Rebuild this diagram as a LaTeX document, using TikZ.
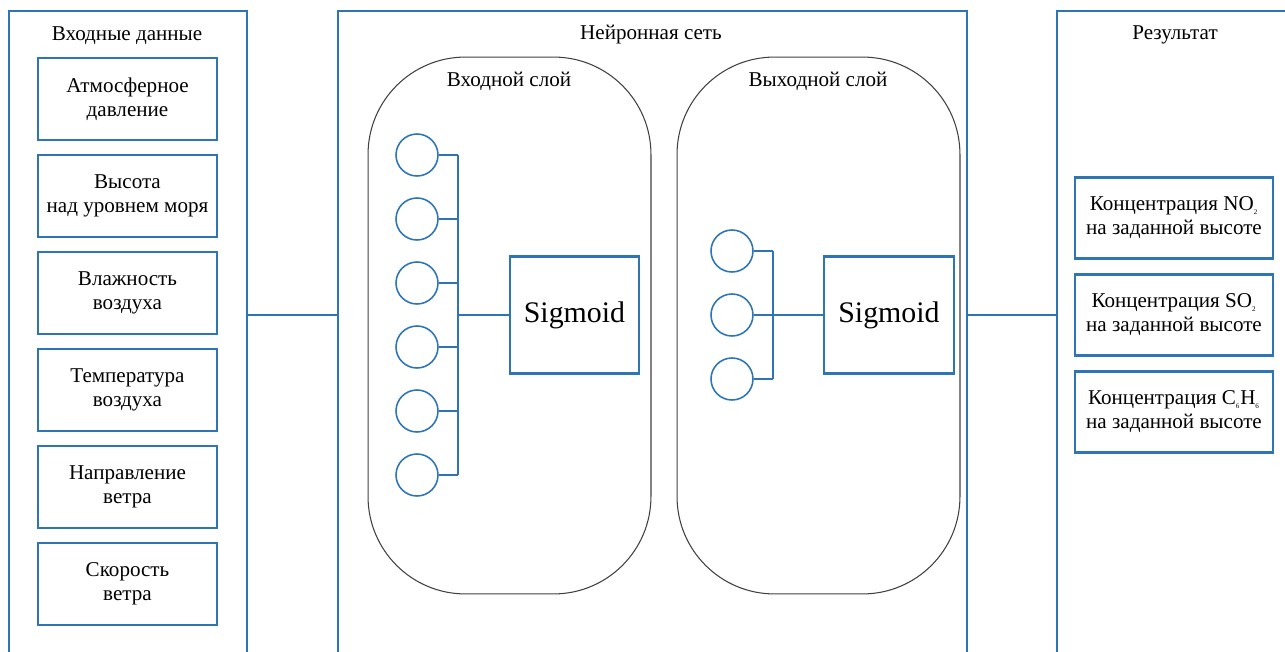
\documentclass[tikz,border=0pt]{standalone}
\usepackage{fontspec}
\setmainfont{Liberation Serif}
\definecolor{netblue}{RGB}{46,117,182}
\newcommand\lowidx[1]{\textsubscript{\fontsize{4}{4}\selectfont #1}}

\begin{document}
\begin{tikzpicture}[x=0.02cm, y=-0.02cm, line width=1.2pt, draw=netblue,
  panel/.style={rectangle, draw=netblue, anchor=north west, inner sep=0pt},
  head/.style={font=\fontsize{12}{14}\selectfont},
  item/.style={rectangle, draw=netblue, minimum width=3.58cm, minimum height=1.64cm, align=center, font=\fontsize{12}{13.6}\selectfont},
  result/.style={item, minimum width=3.96cm, minimum height=1.62cm},
  layer/.style={rectangle, rounded corners=1.95cm, draw=black!75, line width=0.6pt, minimum width=5.66cm, minimum height=10.74cm},
  neuron/.style={circle, draw=netblue, line width=0.9pt, minimum size=0.84cm, inner sep=0pt},
  sig/.style={rectangle, draw=netblue, minimum height=2.34cm, font=\fontsize{17}{20}\selectfont}]
\useasboundingbox (0,0) rectangle (1285,652);
\clip (0,0) rectangle (1285,652);

\begin{scope}
\node[panel, minimum width=4.76cm, minimum height=14cm] (inp) at (8,10) {};
\node[panel, minimum width=12.58cm, minimum height=14cm] (net) at (337,10) {};
\node[panel, minimum width=4.88cm, minimum height=14cm] (res) at (1056,10) {};
\node[head] (inptitle) at (127,36) {Входные данные};
\node[head] (nettitle) at (651,35) {Нейронная сеть};
\node[head] (restitle) at (1175,35) {Результат};
\end{scope}

\begin{scope}
\node[item] (x1) at (127.5,99) {Атмосферное\\давление};
\node[item] (x2) at (127.5,196) {Высота\\над уровнем моря};
\node[item] (x3) at (127.5,293) {Влажность\\воздуха};
\node[item] (x4) at (127.5,390) {Температура\\воздуха};
\node[item] (x5) at (127.5,487) {Направление\\ветра};
\node[item] (x6) at (127.5,584) {Скорость\\ветра};
\end{scope}

\begin{scope}
\node[result] (y1) at (1174,218) {Концентрация NO\lowidx{2}\\на заданной высоте};
\node[result] (y2) at (1174,315) {Концентрация SO\lowidx{2}\\на заданной высоте};
\node[result] (y3) at (1174,412) {Концентрация C\lowidx{6}H\lowidx{6}\\на заданной высоте};
\end{scope}

\begin{scope}
\node[layer] (lin) at (509.5,325.5) {};
\node[layer] (lout) at (818.5,325.5) {};
\node[head] (lintitle) at (509,81) {Входной слой};
\node[head] (louttitle) at (818,81) {Выходной слой};
\node[sig, minimum width=2.58cm] (sigA) at (574.5,315) {Sigmoid};
\node[sig, minimum width=2.6cm] (sigB) at (889,315) {Sigmoid};
\coordinate (busA) at (458,0);
\coordinate (busB) at (773,0);
\end{scope}

\begin{scope}[line width=0.9pt]
\foreach \i in {1,...,6}{
  \node[neuron] (a\i) at (417,{155+64*(\i-1)}) {};
  \draw (a\i.east) -- (a\i.east -| busA);
}
\draw (a1.east -| busA) -- (a6.east -| busA);
\draw (busA |- sigA.west) -- (sigA.west);
\foreach \i in {1,2,3}{
  \node[neuron] (b\i) at (732,{251+64*(\i-1)}) {};
  \draw (b\i.east) -- (b\i.east -| busB);
}
\draw (b1.east -| busB) -- (b3.east -| busB);
\draw (b2.east) -- (sigB.west);
\end{scope}

\draw (inp.east |- sigA.west) -- (net.west |- sigA.west);
\draw (net.east |- sigB.east) -- (res.west |- sigB.east);
\end{tikzpicture}
\end{document}
